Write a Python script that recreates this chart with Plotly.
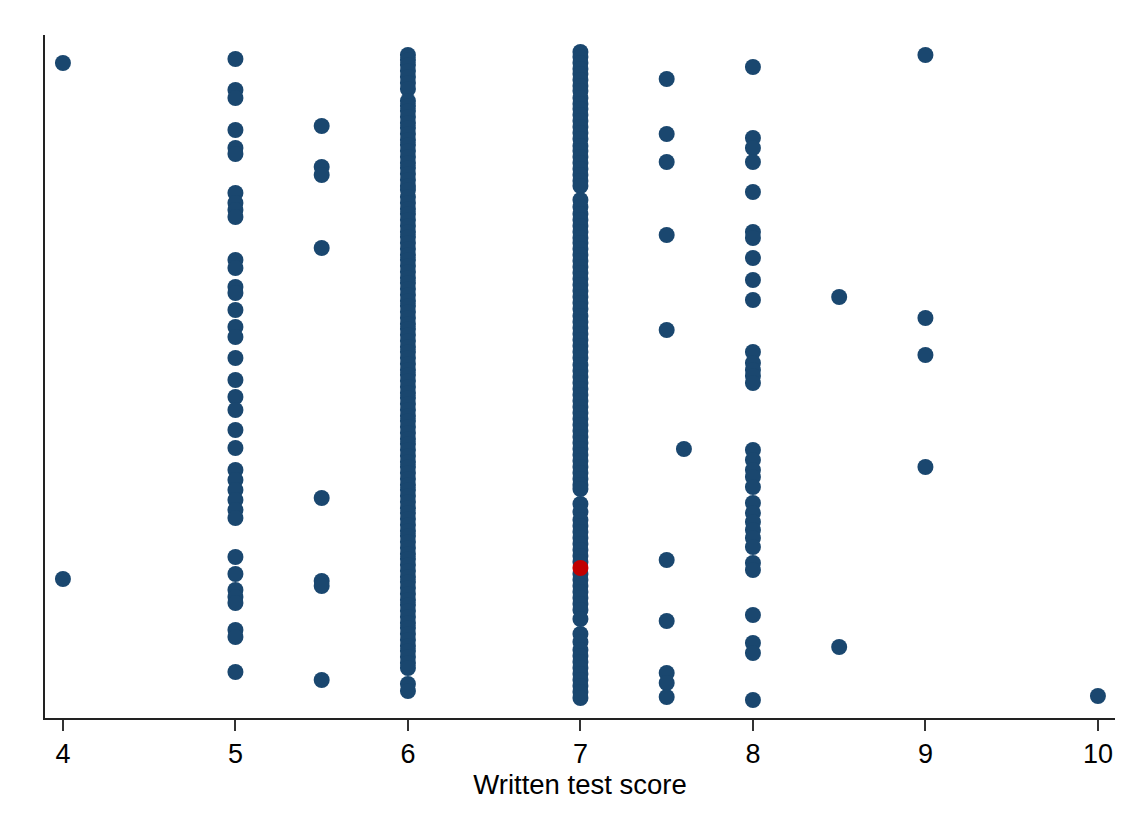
import plotly.graph_objects as go

# Vertical-axis values of each observation, grouped by written test score
y_at_4 = [65.5, 13.9]
y_at_5 = [65.9, 62.8, 62.0, 58.8, 57.0, 56.4, 52.5, 51.5, 50.8, 50.1, 45.8, 45.0,
          43.1, 42.5, 40.8, 39.1, 38.1, 36.0, 33.8, 32.1, 30.8, 28.8, 27.0, 24.8,
          23.8, 22.8, 21.8, 20.8, 20.0, 16.1, 14.4, 12.8, 12.1, 11.5, 8.8, 8.1, 4.6]
y_at_5_5 = [59.2, 55.1, 54.3, 47.0, 22.0, 13.7, 13.2, 3.8]
y_at_6 = [66.3, 65.8, 65.3, 64.7, 64.1, 63.5, 62.9, 61.7, 61.2, 60.7, 60.1, 59.5,
          59.0, 58.4, 57.8, 57.3, 56.7, 56.1, 55.5, 55.0, 54.4, 53.8, 53.2, 52.8,
          52.1, 51.5, 50.9, 50.4, 49.8, 49.2, 48.6, 48.1, 47.5, 46.9, 46.3, 45.8,
          45.2, 44.6, 44.0, 43.5, 42.9, 42.3, 41.7, 41.2, 40.6, 40.0, 39.4, 38.9,
          38.3, 37.7, 37.1, 36.6, 36.0, 35.4, 34.8, 34.3, 33.7, 33.1, 32.5, 32.0,
          31.4, 30.8, 30.2, 29.7, 29.1, 28.5, 27.9, 27.4, 26.8, 26.2, 25.6, 25.1,
          24.5, 23.9, 23.3, 22.8, 22.2, 21.6, 21.0, 20.5, 19.9, 19.3, 18.7, 18.2,
          17.6, 17.0, 16.4, 15.9, 15.3, 14.7, 14.1, 13.6, 13.0, 12.4, 11.8, 11.3,
          10.7, 10.1, 9.5, 9.0, 8.4, 7.8, 7.2, 6.7, 6.1, 5.5, 5.0, 3.4, 2.7]
y_at_7 = [66.6, 66.1, 65.5, 64.9, 64.4, 63.8, 63.2, 62.7, 62.0, 61.4, 60.9, 60.3,
          59.7, 59.1, 58.5, 57.9, 57.2, 56.7, 56.1, 55.5, 54.9, 54.3, 53.7, 53.2,
          51.8, 51.1, 50.4, 49.8, 49.2, 48.6, 48.0, 47.5, 46.9, 46.3, 45.7, 45.1,
          44.5, 43.9, 43.3, 42.7, 42.1, 41.5, 40.9, 40.2, 39.6, 39.0, 38.4, 37.8,
          37.2, 36.6, 36.0, 35.3, 34.7, 34.1, 33.5, 32.9, 32.3, 31.7, 31.1, 30.5,
          29.9, 29.3, 28.7, 28.1, 27.5, 26.9, 26.3, 25.7, 25.1, 24.5, 23.9, 23.3,
          22.9, 21.4, 20.6, 19.8, 19.2, 18.6, 18.0, 17.4, 16.8, 16.2, 15.6, 14.4,
          13.8, 13.2, 12.6, 12.0, 11.4, 10.8, 9.9, 8.4, 7.6, 6.8, 6.2, 5.6, 5.0,
          4.4, 3.8, 3.2, 2.6, 2.0]
y_at_7_5 = [63.9, 58.4, 55.6, 48.3, 38.8, 15.8, 9.7, 4.5, 3.5, 2.1]
y_at_7_6 = [26.9]
y_at_8 = [65.1, 58.0, 57.0, 55.6, 52.6, 48.6, 48.0, 46.0, 43.8, 41.8, 36.6, 35.5,
          34.8, 34.2, 33.5, 26.8, 25.8, 24.8, 24.1, 23.1, 21.5, 20.5, 19.6, 18.8,
          18.0, 17.1, 15.5, 14.8, 10.3, 7.5, 6.5, 1.8]
y_at_8_5 = [42.1, 7.1]
y_at_9 = [66.3, 40.0, 36.3, 25.1]
y_at_10 = [2.2]

scores = [4, 5, 5.5, 6, 7, 7.5, 7.6, 8, 8.5, 9, 10]
groups = [y_at_4, y_at_5, y_at_5_5, y_at_6, y_at_7, y_at_7_5, y_at_7_6,
          y_at_8, y_at_8_5, y_at_9, y_at_10]

# Highlighted observation
highlight_score = [7]
highlight_y = [15.0]

tick_vals = [4, 5, 6, 7, 8, 9, 10]
tick_text = ["4", "5", "6", "7", "8", "9", "10"]

xs, ys = [], []
for s, g in zip(scores, groups):
    xs.extend([s] * len(g))
    ys.extend(g)

fig = go.Figure()
fig.add_trace(go.Scatter(
    x=xs, y=ys, mode="markers",
    marker=dict(size=16, color="#1a476f", line=dict(width=0)),
    showlegend=False, hoverinfo="skip",
))
fig.add_trace(go.Scatter(
    x=highlight_score, y=highlight_y, mode="markers",
    marker=dict(size=16, color="#c10000", line=dict(width=0)),
    showlegend=False, hoverinfo="skip",
))

fig.update_layout(
    width=1134, height=830,
    margin=dict(l=45, r=19, t=35, b=112),
    paper_bgcolor="white", plot_bgcolor="white",
    font=dict(family="Liberation Sans, Arial, sans-serif", color="#000000"),
    xaxis=dict(
        range=[3.896, 10.099],
        tickmode="array", tickvals=tick_vals, ticktext=tick_text,
        ticks="outside", ticklen=11, tickwidth=2, tickcolor="#333333",
        tickfont=dict(size=27),
        showline=True, linecolor="#222222", linewidth=2,
        showgrid=False, zeroline=False,
        title=dict(text="Written test score", font=dict(size=27.5), standoff=3),
    ),
    yaxis=dict(
        range=[0, 68.3],
        showticklabels=False, ticks="",
        showline=True, linecolor="#222222", linewidth=2,
        showgrid=False, zeroline=False,
    ),
)

fig.write_html("out.html")
